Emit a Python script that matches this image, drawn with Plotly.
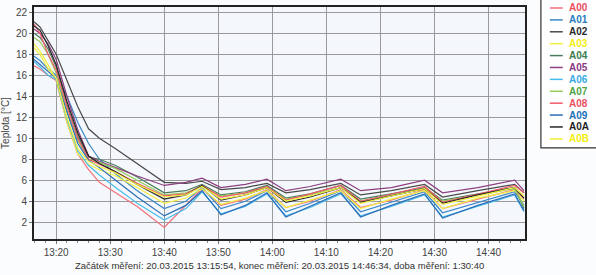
import plotly.graph_objects as go

# ---- data ----
times = ["13:15:54", "13:17:00", "13:18:30", "13:20:00", "13:22:00", "13:24:00",
         "13:26:00", "13:28:00", "13:31:00", "13:35:00", "13:40:00", "13:44:00",
         "13:47:00", "13:50:30", "13:55:00", "13:59:00", "14:02:30", "14:07:00",
         "14:12:40", "14:16:20", "14:22:00", "14:28:10", "14:31:30", "14:38:00",
         "14:44:50", "14:46:34"]

A00 = [16.9, 16.6, 16.0, 15.5, 11.5, 8.5, 7.0, 5.8, 4.8, 3.5, 1.5, 3.6, 5.2, 3.6, 4.2, 5.1, 3.4, 4.0, 5.1, 3.4, 4.1, 5.1, 3.3, 4.2, 5.1, 4.2]
A01 = [17.8, 17.4, 16.6, 16.0, 14.0, 11.5, 9.5, 8.0, 6.6, 5.0, 3.3, 4.0, 5.3, 3.3, 4.0, 5.0, 3.0, 3.8, 5.0, 3.0, 3.9, 4.9, 2.9, 3.9, 4.9, 3.6]
A02 = [21.1, 20.6, 19.3, 18.0, 15.5, 13.0, 10.9, 10.0, 9.0, 7.6, 5.8, 5.7, 5.9, 5.1, 5.3, 5.7, 4.8, 5.1, 5.7, 4.6, 5.0, 5.6, 4.4, 5.0, 5.6, 4.8]
A03 = [19.0, 18.3, 17.0, 15.6, 11.5, 8.5, 7.5, 7.0, 6.4, 5.3, 3.8, 4.3, 5.2, 3.7, 4.3, 5.0, 3.4, 4.1, 5.0, 3.3, 4.2, 5.0, 3.3, 4.3, 5.0, 4.0]
A04 = [20.0, 19.6, 18.5, 16.8, 13.2, 10.2, 8.2, 8.0, 7.4, 6.3, 4.8, 5.0, 5.6, 4.6, 4.9, 5.5, 4.3, 4.7, 5.5, 4.2, 4.7, 5.3, 4.1, 4.7, 5.3, 3.3]
A05 = [20.4, 20.0, 19.0, 17.5, 14.0, 10.8, 8.3, 7.8, 7.2, 6.4, 5.5, 5.8, 6.2, 5.3, 5.6, 6.1, 5.0, 5.4, 6.1, 5.0, 5.3, 6.0, 4.8, 5.3, 6.0, 5.0]
A06 = [17.3, 16.8, 16.0, 15.6, 11.8, 8.8, 7.4, 6.5, 5.3, 3.8, 2.2, 3.3, 4.9, 2.8, 3.5, 4.7, 2.6, 3.4, 4.7, 2.6, 3.5, 4.6, 2.5, 3.5, 4.6, 3.0]
A07 = [19.6, 19.2, 18.0, 16.2, 12.6, 9.8, 8.0, 7.7, 7.1, 6.0, 4.6, 4.8, 5.4, 4.5, 4.8, 5.3, 4.2, 4.6, 5.3, 4.0, 4.6, 5.2, 4.0, 4.6, 5.2, 3.5]
A08 = [20.9, 20.0, 18.0, 16.5, 13.0, 10.0, 8.0, 7.5, 6.8, 5.7, 4.5, 4.7, 5.5, 4.4, 4.8, 5.4, 4.1, 4.7, 5.5, 4.0, 4.7, 5.4, 3.9, 4.7, 5.5, 4.8]
A09 = [17.5, 17.0, 16.3, 15.7, 12.5, 9.5, 7.9, 7.2, 6.0, 4.4, 2.6, 3.6, 5.0, 2.7, 3.6, 4.8, 2.5, 3.5, 4.8, 2.5, 3.6, 4.7, 2.4, 3.6, 4.7, 3.1]
A0A = [20.7, 20.3, 18.8, 17.0, 13.5, 10.5, 8.3, 7.6, 6.8, 5.6, 4.2, 4.6, 5.5, 4.1, 4.6, 5.3, 3.9, 4.4, 5.3, 3.9, 4.5, 5.2, 3.8, 4.6, 5.3, 4.3]
A0B = [18.6, 18.0, 16.6, 15.7, 12.0, 9.0, 7.8, 7.3, 6.7, 5.6, 4.4, 4.6, 5.4, 4.2, 4.6, 5.3, 4.0, 4.5, 5.3, 3.8, 4.5, 5.2, 3.7, 4.5, 5.3, 4.5]

names = ["A00", "A01", "A02", "A03", "A04", "A05", "A06", "A07", "A08", "A09", "A0A", "A0B"]
series = [A00, A01, A02, A03, A04, A05, A06, A07, A08, A09, A0A, A0B]
line_colors = ["#F2707C", "#3A86C8", "#4A4A4A", "#F4F040", "#4A7C5C", "#8E3F82",
               "#48BCEC", "#98CC5A", "#F05A6A", "#2A6EB8", "#262626", "#F2EE3A"]
text_colors = ["#E8505E", "#2A7CC0", "#2A2A2A", "#F2EE10", "#3E7A50", "#8B3A82",
               "#3AAAE2", "#4EA444", "#E85262", "#2070B8", "#1E1E1E", "#F2EE10"]
yticks = [2, 4, 6, 8, 10, 12, 14, 16, 18, 20, 22]
xtick_labels = ["13:20", "13:30", "13:40", "13:50", "14:00", "14:10", "14:20", "14:30", "14:40"]
date = "2015-03-20 "

FONT = "Liberation Sans, Arial, sans-serif"
W, H = 596, 275
L, R, T, B = 31, 71, 5, 36
PW, PH = W - L - R, H - T - B

def px(x):
    return (x - L) / PW

def py(y):
    return (H - B - y) / PH

fig = go.Figure()
xs = [date + t for t in times]
for n, s, c in zip(names, series, line_colors):
    fig.add_trace(go.Scatter(x=xs, y=s, name=n, mode="lines",
                             line=dict(color=c, width=1.2), showlegend=False))

# custom compact legend
shapes = [dict(type="rect", xref="paper", yref="paper",
               x0=px(541), x1=px(599), y0=py(147), y1=py(-3),
               line=dict(color="#333333", width=1.2), fillcolor="rgba(255,255,255,0.9)")]
annotations = []
for i, (n, lc, tc) in enumerate(zip(names, line_colors, text_colors)):
    yy = 6 + i * 12.0
    shapes.append(dict(type="line", xref="paper", yref="paper",
                       x0=px(550), x1=px(563), y0=py(yy), y1=py(yy),
                       line=dict(color=lc, width=1.5)))
    annotations.append(dict(xref="paper", yref="paper", x=px(567), y=py(yy),
                            xanchor="left", yanchor="middle", showarrow=False,
                            text="<b>" + n + "</b>",
                            font=dict(family=FONT, size=10, color=tc)))

annotations.append(dict(xref="paper", yref="paper", x=0.5, y=py(266),
                        xanchor="center", yanchor="middle", showarrow=False,
                        text="Začátek měření: 20.03.2015 13:15:54, konec měření: 20.03.2015 14:46:34, doba měření: 1:30:40",
                        font=dict(family=FONT, size=9.5, color="#333333")))

fig.update_layout(
    width=W, height=H,
    margin=dict(l=L, r=R, t=T, b=B),
    paper_bgcolor="#fbfcfd", plot_bgcolor="#f4f7fb",
    font=dict(family=FONT, size=10, color="#444444"),
    shapes=shapes, annotations=annotations,
    showlegend=False,
)
fig.update_xaxes(
    range=[date + "13:15:54", date + "14:46:45"],
    tickvals=[date + t for t in xtick_labels], ticktext=xtick_labels,
    showgrid=True, gridcolor="#9a9a9a", gridwidth=1,
    showline=True, linecolor="#222222", linewidth=2, mirror=True,
    ticks="outside", ticklen=3, tickcolor="#777777",
    minor=dict(dtick=120000, ticks="outside", ticklen=2, tickcolor="#888888", showgrid=False),
    tickfont=dict(size=10, color="#444444"), zeroline=False,
)
fig.update_yaxes(
    range=[0.4, 22.5], tickvals=yticks,
    showgrid=True, gridcolor="#9a9a9a", gridwidth=1,
    showline=True, linecolor="#222222", linewidth=2, mirror=True,
    ticks="outside", ticklen=3, tickcolor="#777777",
    tickfont=dict(size=10, color="#444444"), zeroline=False,
    title=dict(text="Teplota [°C]", font=dict(size=10, color="#444444"), standoff=4),
)

fig.write_html("out.html")
